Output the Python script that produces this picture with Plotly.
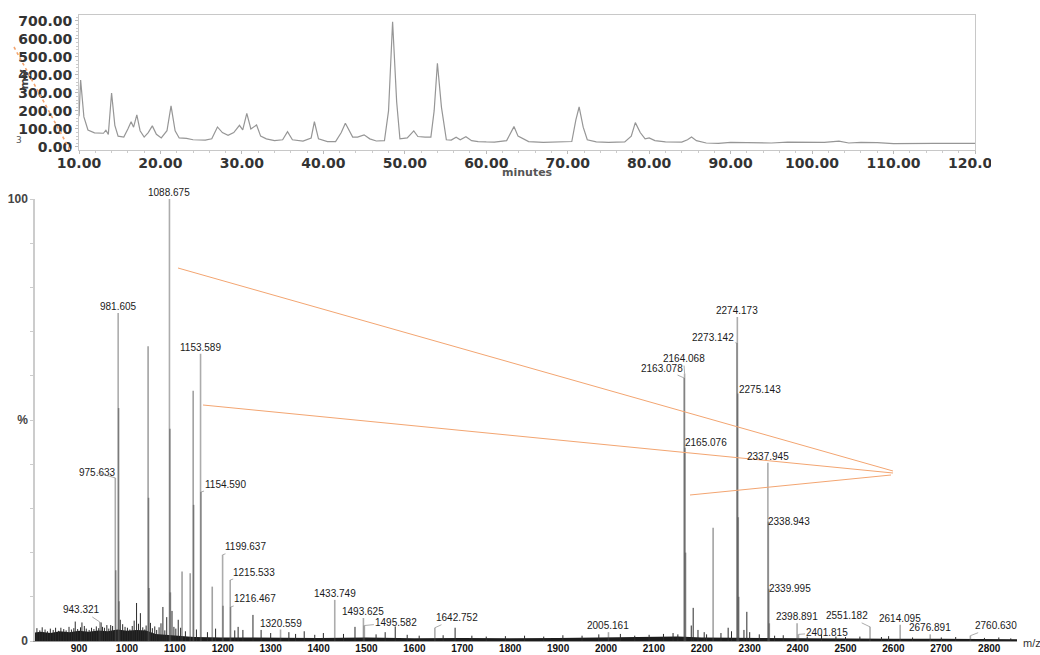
import plotly.graph_objects as go

W, H = 1040, 655

# ---------------- chromatogram (top panel) ----------------
CHROM_MIN = [10.0, 10.2, 10.6, 11.1, 11.9, 13.0, 13.3, 13.6, 14.0, 14.4, 14.8, 15.5, 16.0, 16.4,
             16.7, 17.1, 17.5, 18.0, 18.5, 19.0, 19.5, 20.1, 20.8, 21.3, 21.8, 22.3, 23.2, 24.0,
             25.5, 26.3, 27.0, 27.6, 28.3, 29.0, 29.7, 30.1, 30.6, 31.1, 31.8, 32.3, 33.0, 34.0,
             35.0, 35.6, 36.2, 37.5, 38.5, 38.9, 39.4, 40.5, 41.5, 42.2, 42.7, 43.2, 43.6, 44.2,
             45.0, 45.7, 46.5, 47.5, 48.0, 48.5, 49.0, 49.4, 50.3, 51.1, 51.6, 52.5, 53.2, 53.6,
             54.0, 54.5, 55.1, 55.7, 56.3, 56.8, 57.5, 58.2, 59.0, 60.0, 61.0, 62.5, 63.0, 63.4,
             63.9, 64.5, 65.2, 67.0, 68.5, 70.5, 71.0, 71.4, 71.9, 72.4, 73.5, 75.0, 77.0, 77.8,
             78.3, 78.9, 79.5, 80.0, 80.7, 82.0, 84.0, 84.7, 85.2, 85.8, 87.0, 88.5, 90.0, 93.0,
             95.0, 97.0, 100.0, 101.5, 103.3, 104.5, 106.0, 108.0, 110.0, 112.0, 115.0, 120.0]
CHROM_MV = [170, 372, 167, 94, 78, 76, 93, 70, 300, 120, 60, 55, 100, 140,
            110, 178, 90, 55, 80, 117, 70, 50, 90, 228, 90, 50, 48, 40,
            38, 45, 111, 80, 65, 80, 120, 95, 187, 100, 122, 60, 45, 35,
            40, 85, 40, 32, 50, 140, 45, 30, 30, 80, 132, 90, 55, 55,
            67, 45, 33, 35, 200, 696, 250, 45, 50, 89, 58, 55, 55, 200,
            465, 220, 40, 38, 54, 40, 57, 35, 30, 28, 27, 35, 80, 113,
            60, 45, 30, 25, 27, 30, 150, 222, 110, 40, 28, 25, 28, 60,
            135, 80, 45, 50, 35, 28, 27, 40, 55, 35, 22, 20, 25, 24,
            22, 27, 27, 25, 32, 22, 25, 24, 18, 20, 20, 20]

MIN_TICKS = [10, 20, 30, 40, 50, 60, 70, 80, 90, 100, 110, 120]
MV_TICKS = [0, 100, 200, 300, 400, 500, 600, 700]

# ---------------- mass spectrum (bottom panel) ----------------
# annotated peaks: m/z and relative intensity (%)
LABELED_MZ = [943.321, 975.633, 981.605, 1088.675, 1153.589, 1154.590, 1199.637, 1215.533,
              1216.467, 1320.559, 1433.749, 1493.625, 1495.582, 1642.752, 2005.161, 2163.078,
              2164.068, 2165.076, 2273.142, 2274.173, 2275.143, 2337.945, 2338.943, 2339.995,
              2398.891, 2401.815, 2551.182, 2614.095, 2676.891, 2760.630]
LABELED_PCT = [4.3, 36.9, 74.2, 100.0, 65.0, 33.7, 19.5, 13.8,
               7.7, 2.6, 9.3, 5.2, 3.5, 3.0, 2.0, 59.5,
               60.5, 43.7, 67.4, 73.3, 56.0, 40.3, 27.0, 11.8,
               4.0, 1.5, 3.2, 3.7, 1.5, 1.2]

# other resolved peaks without labels
PEAK_MZ = [976.6, 982.6, 983.6, 1044.1, 1045.1, 1046.1, 1089.7, 1090.7, 1115.0, 1132.0,
           1138.2, 1139.2, 1178.0, 1200.6, 2166.1, 2223.6, 2276.1, 2277.1, 2340.9]
PEAK_PCT = [16.0, 52.7, 9.0, 66.7, 32.4, 12.0, 48.0, 11.0, 15.7, 15.3,
            56.6, 30.8, 12.3, 8.0, 20.0, 25.6, 28.0, 10.0, 4.0]

# low-level chemical noise
NOISE_MZ = [812, 818, 823, 829, 834, 840, 846, 851, 857, 862,
            868, 873, 879, 884, 889, 892, 897, 903, 906, 911,
            915, 921, 926, 931, 936, 941, 946, 949, 953, 958,
            962, 966, 970, 986, 991, 996, 1001, 1006, 1011, 1015,
            1020, 1024, 1028, 1033, 1037, 1040, 1049, 1053, 1058, 1062,
            1067, 1071, 1075, 1079, 1083, 1094, 1098, 1102, 1107, 1112,
            1122, 1145, 1168, 1185, 1225, 1232, 1242, 1263, 1280, 1300,
            1338, 1352, 1370, 1392, 1410, 1452, 1476, 1520, 1539, 1560,
            1585, 1610, 1660, 1685, 1720, 1750, 1790, 1830, 1870, 1910,
            1950, 1985, 2030, 2060, 2090, 2120, 2140, 2150, 2178, 2182,
            2192, 2205, 2210, 2240, 2255, 2262, 2288, 2294, 2300, 2320,
            2352, 2370, 2420, 2450, 2480, 2500, 2530, 2575, 2590, 2640,
            2700, 2730, 2790, 2820, 2845]
NOISE_PCT = [2.9, 2.4, 3.1, 2.6, 2.2, 2.8, 2.5, 3.0, 2.3, 3.0,
             2.7, 2.4, 3.2, 2.6, 2.9, 4.4, 2.7, 3.1, 4.2, 3.4,
             2.8, 2.5, 3.0, 2.7, 3.3, 2.9, 4.2, 3.2, 3.0, 3.6,
             2.8, 3.6, 3.4, 4.8, 3.8, 3.2, 3.0, 2.6, 3.4, 4.6,
             8.6, 3.9, 6.3, 3.1, 2.6, 3.5, 4.1, 2.9, 3.3, 2.5,
             3.1, 4.0, 7.7, 2.4, 5.4, 6.8, 3.2, 2.8, 4.8, 3.0,
             2.2, 2.6, 2.0, 2.8, 2.4, 3.2, 2.5, 5.9, 2.5, 1.8,
             2.0, 1.6, 2.2, 1.4, 1.8, 1.6, 3.2, 1.5, 2.0, 3.3,
             1.4, 1.2, 1.3, 3.0, 1.2, 1.0, 1.1, 1.2, 1.0, 1.3,
             1.2, 1.5, 1.6, 1.2, 1.4, 1.6, 1.8, 1.5, 3.5, 7.5,
             2.5, 2.0, 1.5, 1.8, 3.0, 2.2, 2.5, 6.6, 2.0, 1.5,
             1.2, 1.3, 1.0, 1.5, 1.0, 0.9, 1.0, 0.9, 1.1, 0.8,
             0.8, 0.9, 0.7, 0.8, 0.6]

# unresolved baseline level
BAND_MZ = [808, 820, 840, 860, 880, 900, 920, 940, 960, 980,
           1000, 1020, 1040, 1060, 1080, 1100, 1120, 1140, 1200, 1300,
           1400, 1500, 1600, 1700, 1800, 1900, 2000, 2100, 2150, 2200,
           2300, 2400, 2500, 2600, 2700, 2858]
BAND_PCT = [1.9, 2.1, 1.8, 2.2, 2.0, 2.3, 2.1, 2.4, 2.2, 2.6,
            2.3, 2.5, 2.4, 1.6, 1.4, 1.2, 1.0, 0.9, 0.8, 0.7,
            0.7, 0.8, 0.6, 0.7, 0.6, 0.7, 0.8, 0.9, 1.0, 0.8,
            0.7, 0.6, 0.5, 0.5, 0.5, 0.4]

MZ_TICKS = list(range(900, 2801, 100))

# label placement: (dx, dy) pixel offset of label centre from the peak tip; absent = on top
LABEL_OFFSET = {
    "943.321": (-18, -12), "975.633": (-18, -5), "1154.590": (24, -8), "1199.637": (23, -8),
    "1215.533": (24, -8), "1216.467": (24, -8), "1495.582": (32, -3), "1642.752": (22, -10),
    "2163.078": (-22, -10), "2164.068": (-1, -15), "2165.076": (21, -5), "2273.142": (-24, -6),
    "2275.143": (22, -4), "2338.943": (21, 0), "2339.995": (21, 0), "2401.815": (29, -2),
    "2551.182": (-23, -11), "2760.630": (26, -10),
}


def sticks(xs, ys):
    px, py = [], []
    for x, y in zip(xs, ys):
        px += [x, x, None]
        py += [0, y, None]
    return px, py


def pxx(v):
    return v / W


def pxy(v):
    return 1 - v / H


fig = go.Figure()

# chromatogram trace
fig.add_trace(go.Scatter(x=CHROM_MIN, y=CHROM_MV, mode="lines",
                         line=dict(color="#969696", width=1.2),
                         xaxis="x", yaxis="y", hoverinfo="skip", showlegend=False))

# spectrum: baseline band, noise, peaks
fig.add_trace(go.Scatter(x=BAND_MZ, y=BAND_PCT, mode="lines", fill="tozeroy",
                         fillcolor="#1c1c1c", line=dict(width=0, color="#1c1c1c"),
                         xaxis="x2", yaxis="y2", hoverinfo="skip", showlegend=False))
nx, ny = sticks(NOISE_MZ, NOISE_PCT)
fig.add_trace(go.Scatter(x=nx, y=ny, mode="lines", line=dict(color="#2a2a2a", width=1),
                         xaxis="x2", yaxis="y2", hoverinfo="skip", showlegend=False))
ux, uy = sticks(PEAK_MZ, PEAK_PCT)
fig.add_trace(go.Scatter(x=ux, y=uy, mode="lines", line=dict(color="rgba(70,70,70,0.5)", width=1.6),
                         xaxis="x2", yaxis="y2", hoverinfo="skip", showlegend=False))
lx, ly = sticks(LABELED_MZ, LABELED_PCT)
fig.add_trace(go.Scatter(x=lx, y=ly, mode="lines", line=dict(color="rgba(70,70,70,0.45)", width=1.6),
                         xaxis="x2", yaxis="y2", hoverinfo="skip", showlegend=False))

annotations = []
label_font = dict(family="Liberation Sans", size=10, color="#1a1a1a")
for mz, pct in zip(LABELED_MZ, LABELED_PCT):
    text = f"{mz:.3f}"
    off = LABEL_OFFSET.get(text)
    if off is None:
        annotations.append(dict(x=mz, y=pct, xref="x2", yref="y2", text=text, showarrow=False,
                                yanchor="bottom", xanchor="center", yshift=-1, font=label_font))
    else:
        annotations.append(dict(x=mz, y=pct, xref="x2", yref="y2", text=text, showarrow=True,
                                ax=off[0], ay=off[1], arrowhead=0, arrowwidth=0.7,
                                arrowcolor="#888888", standoff=0, startstandoff=0,
                                font=label_font))

# axis titles and stray marks
annotations += [
    dict(x=pxx(527), y=pxy(172), xref="paper", yref="paper", text="minutes", showarrow=False,
         yanchor="middle", font=dict(family="DejaVu Sans", size=11, color="#555555", weight="bold")),
    dict(x=pxx(16), y=pxy(80), xref="paper", yref="paper", text="mV", showarrow=False,
         textangle=-90, yanchor="middle",
         font=dict(family="DejaVu Sans", size=11, color="#444444", weight="bold")),
    dict(x=pxx(14), y=pxy(140), xref="paper", yref="paper", text="3", showarrow=False,
         yanchor="middle", font=dict(family="DejaVu Sans", size=9, color="#555555")),
    dict(x=pxx(1021), y=pxy(643), xref="paper", yref="paper", text="m/z", showarrow=False,
         xanchor="left", yanchor="middle",
         font=dict(family="Liberation Sans", size=11, color="#333333")),
]

orange = "#f3a571"
shapes = [
    dict(type="line", xref="paper", yref="paper", x0=pxx(178), y0=pxy(268), x1=pxx(893), y1=pxy(471),
         line=dict(color=orange, width=1)),
    dict(type="line", xref="paper", yref="paper", x0=pxx(203), y0=pxy(405), x1=pxx(893), y1=pxy(473),
         line=dict(color=orange, width=1)),
    dict(type="line", xref="paper", yref="paper", x0=pxx(690), y0=pxy(495), x1=pxx(891), y1=pxy(475),
         line=dict(color=orange, width=1)),
    dict(type="line", xref="paper", yref="paper", x0=pxx(14), y0=pxy(47), x1=pxx(70), y1=pxy(150),
         line=dict(color=orange, width=1.6, dash="dot")),
    # page crop at the right edge of the chromatogram scale
    dict(type="rect", xref="paper", yref="paper", x0=pxx(991), x1=1.0, y0=pxy(178), y1=pxy(152),
         fillcolor="white", line=dict(width=0), layer="above"),
]

top_font = dict(family="DejaVu Sans", size=14, color="#333333", weight="bold")

fig.update_layout(
    template="none",
    width=W, height=H, margin=dict(l=0, r=0, t=0, b=0, pad=0, autoexpand=False),
    paper_bgcolor="white", plot_bgcolor="white", showlegend=False,
    xaxis=dict(domain=[pxx(79), pxx(975)], range=[10, 120], anchor="y", automargin=False,
               tickvals=MIN_TICKS, ticktext=[f"{v:.2f}" for v in MIN_TICKS],
               tickfont=top_font, showline=True, linecolor="#c8c8c8", linewidth=1, mirror=True,
               ticks="outside", ticklen=3, tickcolor="#bbbbbb", ticklabelstandoff=-3,
               minor=dict(dtick=2, ticks="outside", ticklen=2, tickcolor="#cccccc"),
               showgrid=False, zeroline=False),
    yaxis=dict(domain=[pxy(150), pxy(15)], range=[-17, 733], anchor="x", automargin=False,
               tickvals=MV_TICKS, ticktext=[f"{v:.2f}" for v in MV_TICKS],
               tickfont=top_font, showline=True, linecolor="#c8c8c8", linewidth=1, mirror=True,
               ticks="outside", ticklen=3, tickcolor="#bbbbbb",
               minor=dict(dtick=20, ticks="outside", ticklen=2, tickcolor="#cccccc"),
               showgrid=False, zeroline=False),
    xaxis2=dict(domain=[pxx(35), pxx(1017)], range=[808, 2858], anchor="y2", automargin=False,
                tickvals=MZ_TICKS, ticktext=[str(v) for v in MZ_TICKS],
                tickfont=dict(family="Liberation Sans", size=10, color="#111111", weight="bold"),
                ticklabelstandoff=-2,
                showline=True, linecolor="#999999", linewidth=1, ticks="", showgrid=False,
                zeroline=False),
    yaxis2=dict(domain=[pxy(641), pxy(199)], range=[0, 100], anchor="x2", automargin=False,
                tickvals=[0, 50, 100], ticktext=["0", "%", "100"],
                tickfont=dict(family="Liberation Sans", size=12, color="#444444", weight="bold"),
                showline=True, linecolor="#cccccc", linewidth=1.5, ticks="outside", ticklen=3,
                tickcolor="#cccccc",
                minor=dict(dtick=10, ticks="outside", ticklen=3, tickcolor="#cccccc"),
                showgrid=False, zeroline=False),
    annotations=annotations, shapes=shapes,
)

fig.write_html("out.html")
